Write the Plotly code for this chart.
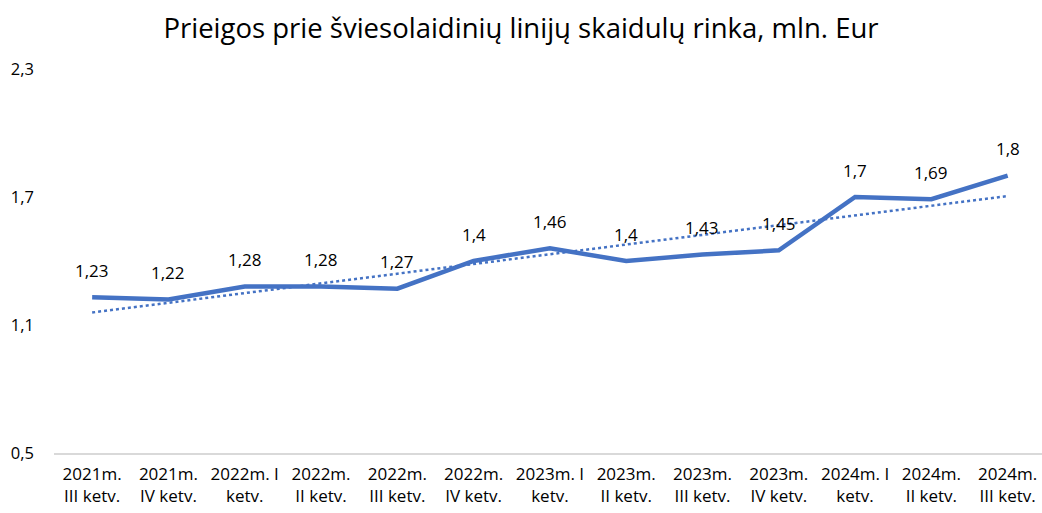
import numpy as np
import plotly.graph_objects as go

categories = [
    "2021m.<br>III ketv.", "2021m.<br>IV ketv.", "2022m. I<br>ketv.", "2022m.<br>II ketv.",
    "2022m.<br>III ketv.", "2022m.<br>IV ketv.", "2023m. I<br>ketv.", "2023m.<br>II ketv.",
    "2023m.<br>III ketv.", "2023m.<br>IV ketv.", "2024m. I<br>ketv.", "2024m.<br>II ketv.",
    "2024m.<br>III ketv.",
]
values = [1.23, 1.22, 1.28, 1.28, 1.27, 1.4, 1.46, 1.4, 1.43, 1.45, 1.7, 1.69, 1.8]
labels = ["1,23", "1,22", "1,28", "1,28", "1,27", "1,4", "1,46", "1,4", "1,43", "1,45", "1,7", "1,69", "1,8"]
y_ticks = [0.5, 1.1, 1.7, 2.3]
y_tick_text = ["0,5", "1,1", "1,7", "2,3"]

# linear trendline from the data
idx = np.arange(len(values))
slope, intercept = np.polyfit(idx, values, 1)
trend = slope * idx + intercept

FONT = "Open Sans"
BLUE = "#4472C4"

fig = go.Figure()
fig.add_trace(go.Scatter(
    x=categories, y=trend, mode="lines",
    line=dict(color=BLUE, width=2.5, dash="dot"),
    hoverinfo="skip", showlegend=False,
))
fig.add_trace(go.Scatter(
    x=categories, y=values, mode="lines",
    line=dict(color=BLUE, width=4.5),
    showlegend=False,
))
for c, v, t in zip(categories, values, labels):
    fig.add_annotation(x=c, y=v, text=t, showarrow=False, yshift=27,
                       font=dict(family=FONT, size=17, color="#000000"))

fig.update_layout(
    width=1042, height=513,
    paper_bgcolor="white", plot_bgcolor="white",
    margin=dict(l=54, r=0, t=69, b=60),
    title=dict(text="Prieigos prie šviesolaidinių linijų skaidulų rinka, mln. Eur",
               x=0.5, xanchor="center", y=0.945, yanchor="middle",
               font=dict(family=FONT, size=27.5, color="#000000")),
    separators=",.",
    font=dict(family=FONT, color="#000000"),
)
fig.update_xaxes(
    type="category", range=[-0.5, 12.45], showgrid=False, showline=True,
    linecolor="#d9d9d9", linewidth=1.5, ticklabelstandoff=5,
    ticks="", tickfont=dict(family=FONT, size=17, color="#000000"), tickangle=0,
)
fig.update_yaxes(
    range=[0.5, 2.3], tickvals=y_ticks, ticktext=y_tick_text, showgrid=False,
    zeroline=False, showline=False, ticks="", ticklabelstandoff=19,
    tickfont=dict(family=FONT, size=16.5, color="#000000"),
)
fig.write_html("out.html", config={"displayModeBar": False},
               post_script="document.body.style.margin='0';")
